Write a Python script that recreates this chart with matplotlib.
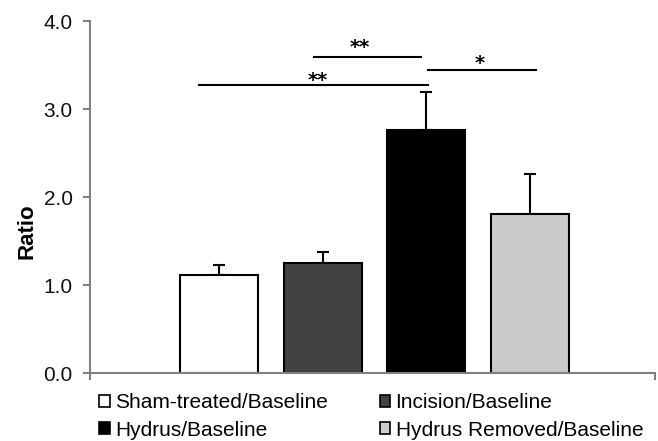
import matplotlib.pyplot as plt
from matplotlib.patches import Patch

groups = ['Sham-treated/Baseline', 'Incision/Baseline', 'Hydrus/Baseline', 'Hydrus Removed/Baseline']
ratios = [1.12, 1.25, 2.76, 1.81]
errors = [0.11, 0.13, 0.43, 0.45]
colors = ['#ffffff', '#424242', '#000000', '#cbcbcb']

# significance brackets: (left, right, height, label, label x, label baseline)
sig_pairs = [(0.92, 1.95, 3.59, '**', 1.36, 3.64),
             (2.02, 3.06, 3.44, '*', 2.51, 3.46),
             (-0.19, 2.02, 3.28, '**', 0.95, 3.26)]

plt.rcParams['font.family'] = ['Liberation Sans', 'DejaVu Sans']

fig = plt.figure(figsize=(6.58, 4.41), dpi=100)
ax = fig.add_axes([0.137, 0.154, 0.858, 0.798])

x = list(range(len(groups)))
ax.bar(x, ratios, width=0.75, color=colors, edgecolor='black', linewidth=1.5, zorder=2)
ax.errorbar(x, ratios, yerr=[[0] * len(errors), errors], fmt='none', ecolor='black',
            elinewidth=1.5, capsize=4.5, capthick=1.5, zorder=1)

for x0, x1, h, lab, lx, ly in sig_pairs:
    ax.plot([x0, x1], [h, h], color='black', lw=1.5)
    ax.text(lx, ly, lab, ha='center', va='baseline', fontsize=14,
            fontweight='bold', family=['DejaVu Sans'])

ax.set_xlim(-1.24, 4.2)
ax.set_ylim(0, 4.0)
ax.set_yticks([0, 1, 2, 3, 4])
ax.set_yticklabels(['0.0', '1.0', '2.0', '3.0', '4.0'], fontsize=15, color='#111111')
ax.set_xticks([-1.24, 4.2])
ax.set_xticklabels([])
ax.tick_params(axis='both', direction='out', length=5, width=1.5, color='#808080', pad=7.5)
for s in ['top', 'right']:
    ax.spines[s].set_visible(False)
for s in ['left', 'bottom']:
    ax.spines[s].set_color('#808080')
    ax.spines[s].set_linewidth(1.5)
ax.set_ylabel('Ratio', fontsize=16, fontweight='bold')
ax.yaxis.set_label_coords(-0.094, 0.403)

# reorder so the legend reads row by row like the original
order = [0, 2, 1, 3]
handles = [Patch(facecolor=colors[i], edgecolor='black', linewidth=1.2) for i in order]
labels = [groups[i] for i in order]
fig.legend(handles, labels, loc='upper left', bbox_to_anchor=(0.151, 0.108), ncol=2,
           frameon=False, fontsize=15, handlelength=0.5, handleheight=0.5, handletextpad=0.25,
           columnspacing=2.5, labelspacing=0.4, borderpad=0, borderaxespad=0)

fig.savefig('out.png', dpi=100)
